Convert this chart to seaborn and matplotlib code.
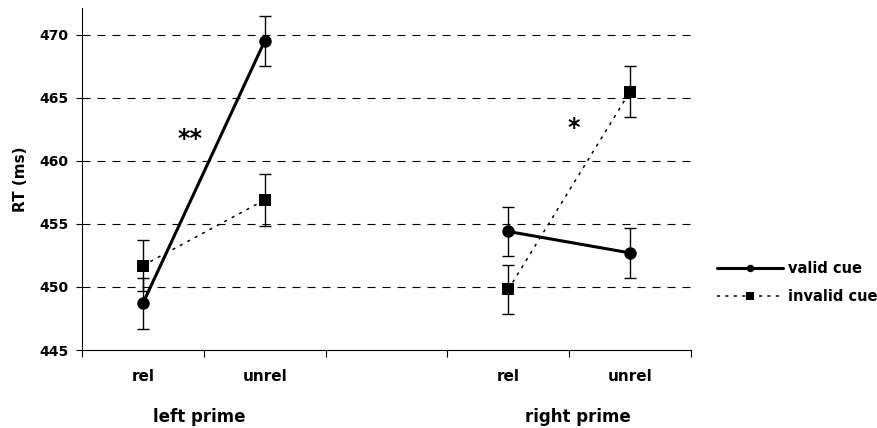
import numpy as np
import pandas as pd
import seaborn as sns
import matplotlib.pyplot as plt
from matplotlib import transforms

# values
primes = ["left prime", "right prime"]
targets = ["rel", "unrel"]
cues = ["valid cue", "invalid cue"]
valid_rt = [448.7, 469.5, 454.4, 452.7]      # left rel, left unrel, right rel, right unrel
valid_err = [2.05, 2.0, 1.95, 2.0]
invalid_rt = [451.7, 456.9, 449.8, 465.5]
invalid_err = [2.0, 2.05, 1.95, 2.05]
y_ticks = [445, 450, 455, 460, 465, 470]
stars = ["**", "*"]

# long table, one row per point; the empty slot between the primes is position 2
rows = []
for cue, rts, errs in zip(cues, [valid_rt, invalid_rt], [valid_err, invalid_err]):
    for i, (rt, err) in enumerate(zip(rts, errs)):
        rows.append({"cue": cue, "prime": primes[i // 2], "target": targets[i % 2],
                     "pos": (i // 2) * 3 + i % 2, "rt": rt, "err": err})
df = pd.DataFrame(rows)

sns.set_style("white")
plt.rcParams["font.family"] = ["DejaVu Sans"]
plt.rcParams["font.weight"] = "bold"
plt.rcParams["text.color"] = "black"
plt.rcParams["axes.labelcolor"] = "black"
plt.rcParams["xtick.color"] = "black"
plt.rcParams["ytick.color"] = "black"

fig, ax = plt.subplots(figsize=(8.78, 4.28), dpi=100)
fig.subplots_adjust(left=0.0934, right=0.787, bottom=0.1822, top=0.9806)

styles = {"valid cue": dict(linestyle="-", lw=2.2, marker="o"),
          "invalid cue": dict(linestyle=(0, (2, 3.5)), lw=1.1, marker="s")}

for cue in cues:
    for j, prime in enumerate(primes):
        sub = df[(df["cue"] == cue) & (df["prime"] == prime)]
        ax.errorbar(sub["pos"], sub["rt"], yerr=sub["err"], fmt="none", ecolor="black",
                    elinewidth=1.0, capsize=4.2, capthick=1.0, zorder=3)
        sns.lineplot(data=sub, x="pos", y="rt", color="black", markersize=9,
                     markeredgewidth=0, errorbar=None, ax=ax, zorder=4,
                     label=cue if j == 0 else None, **styles[cue])

# axes
ax.set_ylim(445, 472.1)
ax.set_yticks(y_ticks)
ax.set_xlim(-0.5, 4.5)
ax.set_xticks(np.arange(-0.5, 5, 1))
ax.set_xticklabels([])
ax.set_xticks(sorted(df["pos"].unique()), minor=True)
ax.set_xticklabels(targets * 2, minor=True)
ax.tick_params(axis="x", which="minor", bottom=True, length=0, pad=14, labelsize=11)
ax.tick_params(axis="x", which="major", bottom=True, length=5, width=0.8, direction="out")
ax.tick_params(axis="y", left=True, length=4.5, width=0.8, direction="out", pad=5, labelsize=10)
ax.set_xlabel("")
ax.set_ylabel("RT (ms)", fontsize=11, fontweight="bold")
ax.yaxis.set_label_coords(-0.089, 0.5)

for side in ["top", "right"]:
    ax.spines[side].set_visible(False)
for side in ["left", "bottom"]:
    ax.spines[side].set_color("black")
    ax.spines[side].set_linewidth(0.8)

# dashed gridlines
for y in y_ticks[1:]:
    ax.axhline(y, color="black", lw=0.8, linestyle=(0, (7.2, 6.3)), zorder=1)

# group labels under the axis
trans = transforms.blended_transform_factory(ax.transData, fig.transFigure)
for x, prime in zip([0.46, 3.57], primes):
    ax.text(x, 0.026, prime, transform=trans, ha="center", va="center", fontsize=12, fontweight="bold")

# significance marks
for (x, y), s in zip([(0.39, 461.7), (3.54, 462.6)], stars):
    ax.text(x, y, s, ha="center", va="center", fontsize=17, fontweight="bold")

ax.legend(loc="center left", bbox_to_anchor=(0.8166, 0.339), bbox_transform=fig.transFigure,
          frameon=False, borderpad=0, borderaxespad=0, handlelength=4.5, handletextpad=0.35,
          labelspacing=0.9, markerscale=0.6, prop={"size": 10.5, "weight": "bold"})

plt.savefig("out.png", dpi=100)
